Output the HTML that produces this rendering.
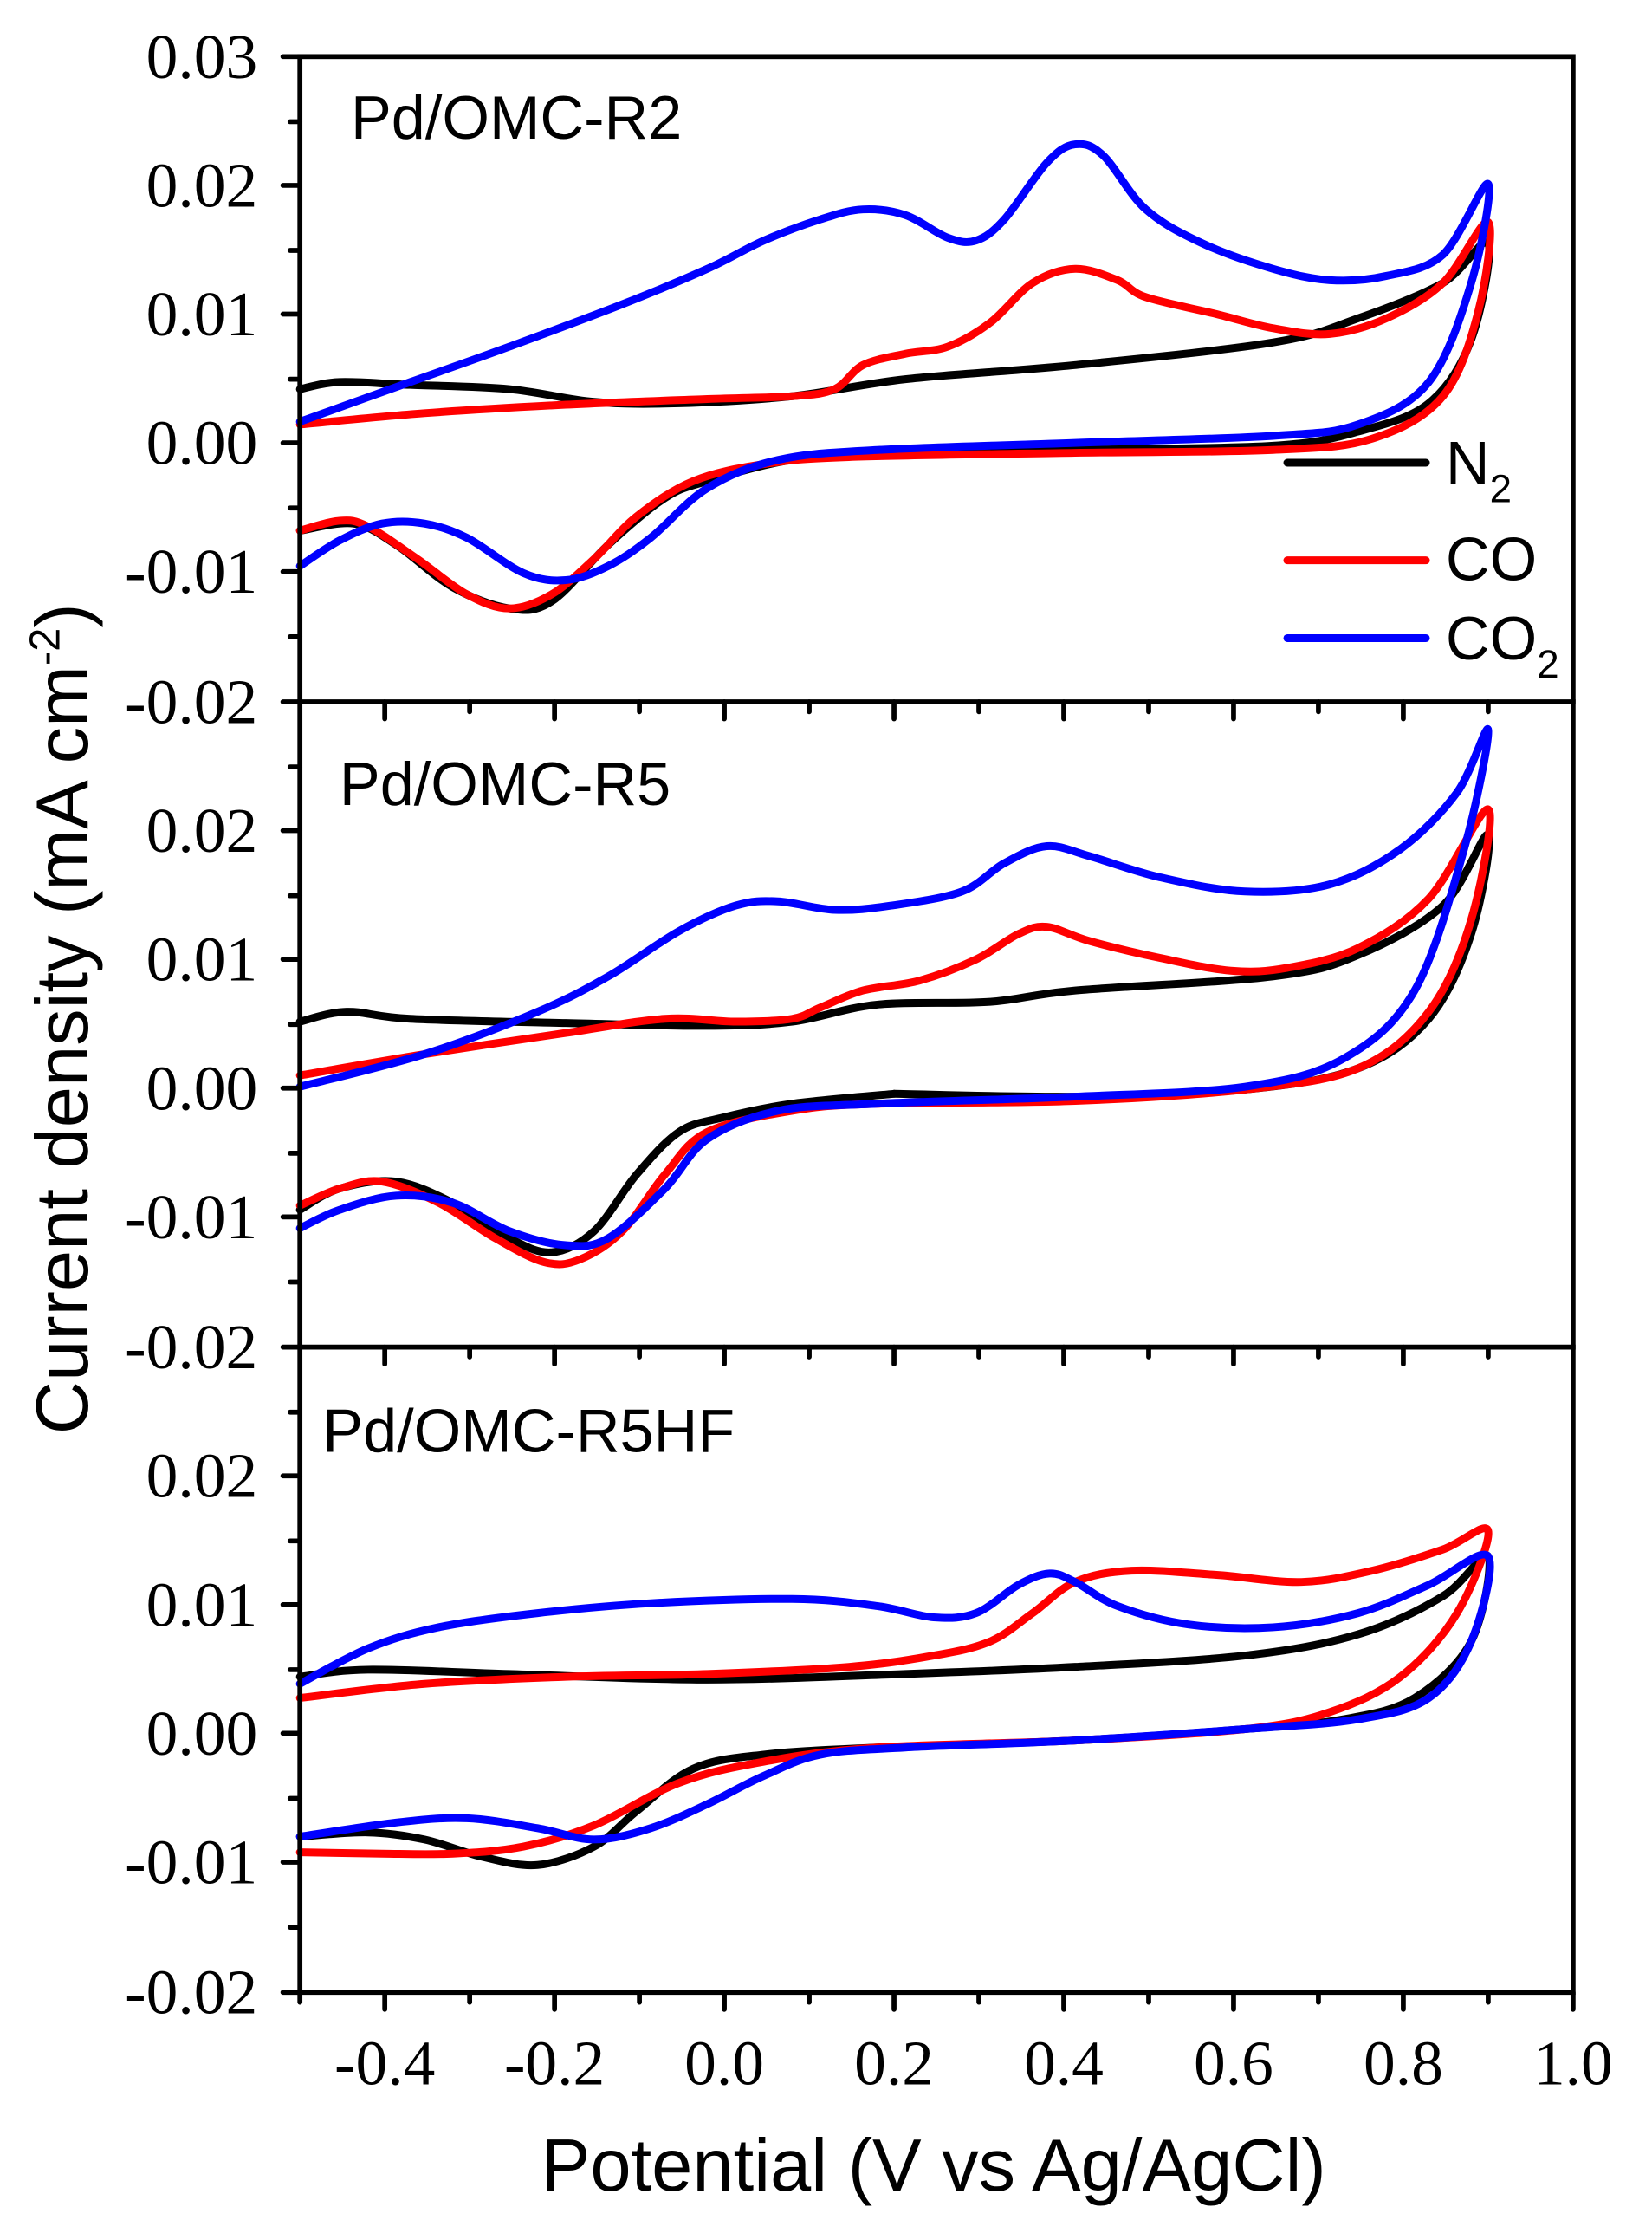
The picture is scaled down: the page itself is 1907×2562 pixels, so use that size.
<!DOCTYPE html>
<html><head><meta charset="utf-8"><style>html,body{margin:0;padding:0;background:#fff}svg{display:block}</style></head>
<body>
<svg id="s" width="1907" height="2562" viewBox="0 0 1167.8 1568.9" preserveAspectRatio="none" xmlns="http://www.w3.org/2000/svg">
<g id="curves" fill="none" stroke-width="5.5" stroke-linejoin="round" stroke-linecap="round">
<polyline stroke="#000" points="212,275 240,270 290,272 360,275 420,284 480,285 560,280 640,268 760,258 900,242 960,225 1020,200 1052,172 1040,240 1010,285 960,305 900,315 760,318 620,322 560,325 500,340 470,352 430,385 390,425 360,430 320,415 280,385 250,370 212,375"/>
<polyline stroke="#f00" points="212,300 300,292 400,286 500,282 560,280 590,275 610,258 640,250 670,245 700,228 730,200 760,190 790,198 810,210 860,222 900,232 940,236 980,225 1020,200 1052,157 1045,220 1020,280 970,310 900,318 760,320 600,323 540,328 490,340 450,365 420,395 390,420 360,430 330,420 295,395 260,372 240,368 212,375"/>
<polyline stroke="#00f" points="212,298 290,270 360,245 440,215 500,190 540,170 580,155 610,148 640,152 670,168 690,170 710,155 740,115 760,102 780,110 810,148 850,172 900,190 940,198 980,195 1020,180 1052,130 1040,200 1010,270 960,300 900,308 760,313 620,318 550,325 500,345 460,380 430,400 400,410 370,405 330,380 300,370 270,370 240,382 212,400"/>
<polyline stroke="#000" points="212,722 245,715 290,720 400,723 500,725 560,722 620,710 700,708 760,700 900,690 960,675 1020,640 1052,590 1040,660 1010,720 960,755 880,770 760,775 632,773"/>
<polyline stroke="#000" points="632,773 560,780 510,790 480,800 450,830 420,870 390,885 360,875 320,850 280,835 240,840 212,855"/>
<polyline stroke="#f00" points="212,760 300,745 400,730 470,720 520,722 560,720 580,712 610,700 650,693 690,678 720,660 740,655 770,665 820,677 870,686 910,684 960,670 1010,635 1052,572 1040,650 1010,715 960,755 880,770 760,778 620,780 560,785 500,800 470,830 440,870 410,890 385,892 350,875 310,850 270,835 240,840 212,852"/>
<polyline stroke="#00f" points="212,768 300,745 380,715 430,690 480,658 520,640 550,637 590,643 630,640 680,630 710,610 740,598 770,605 820,620 880,630 940,625 990,600 1030,560 1052,516 1035,600 1000,700 950,748 880,768 760,775 620,780 550,785 500,805 470,840 430,875 400,880 360,870 320,850 280,845 240,855 212,868"/>
<polyline stroke="#000" points="212,1185 260,1180 360,1183 500,1187 640,1183 760,1178 880,1170 960,1155 1020,1128 1052,1100 1040,1160 1000,1200 950,1215 880,1222 760,1230 620,1235 540,1240 490,1250 450,1280 420,1305 380,1318 340,1312 300,1300 260,1295 212,1298"/>
<polyline stroke="#f00" points="212,1200 300,1190 400,1185 500,1183 600,1178 660,1170 700,1160 730,1140 760,1118 800,1110 860,1113 920,1118 970,1110 1020,1095 1052,1082 1030,1140 990,1185 940,1210 880,1222 760,1230 620,1235 540,1245 480,1260 420,1290 370,1305 320,1310 270,1310 212,1309"/>
<polyline stroke="#00f" points="212,1190 260,1165 310,1150 380,1140 460,1133 560,1130 620,1135 660,1143 690,1140 720,1120 742,1112 760,1118 790,1135 840,1148 900,1150 960,1140 1010,1120 1052,1100 1040,1160 1010,1200 960,1215 880,1222 760,1230 640,1235 580,1240 540,1255 500,1275 460,1292 420,1300 380,1292 330,1285 280,1288 212,1298"/>
</g>
<g fill="none" stroke-width="5.5" stroke-linecap="round">
<line x1="910" y1="327" x2="1008" y2="327" stroke="#000"/>
<line x1="910" y1="396" x2="1008" y2="396" stroke="#f00"/>
<line x1="910" y1="451" x2="1008" y2="451" stroke="#00f"/>
</g>
<g stroke="#000" stroke-width="3.5" fill="none" stroke-linecap="square">
<rect x="212" y="40" width="900" height="1368"/>
<line x1="212" y1="496" x2="1112" y2="496"/>
<line x1="212" y1="952" x2="1112" y2="952"/>
</g>
<g stroke="#000" stroke-width="3.5" stroke-linecap="round">
<path d="M200,40H212M200,131H212M200,222H212M200,313H212M200,404H212M200,496H212M200,587H212M200,678H212M200,769H212M200,860H212M200,952H212M200,1043H212M200,1134H212M200,1225H212M200,1316H212M200,1408H212"/>
<path d="M205,86H212M205,177H212M205,268H212M205,359H212M205,450H212M205,542H212M205,633H212M205,724H212M205,815H212M205,906H212M205,998H212M205,1089H212M205,1180H212M205,1271H212M205,1362H212"/>
<path d="M272,1408V1420M392,1408V1420M512,1408V1420M632,1408V1420M752,1408V1420M872,1408V1420M992,1408V1420M1112,1408V1420"/>
<path d="M212,1408V1415M332,1408V1415M452,1408V1415M572,1408V1415M692,1408V1415M812,1408V1415M932,1408V1415M1052,1408V1415"/>
<path d="M272,496V508M392,496V508M512,496V508M632,496V508M752,496V508M872,496V508M992,496V508M332,496V503M452,496V503M572,496V503M692,496V503M812,496V503M932,496V503M1052,496V503"/>
<path d="M272,952V964M392,952V964M512,952V964M632,952V964M752,952V964M872,952V964M992,952V964M332,952V959M452,952V959M572,952V959M692,952V959M812,952V959M932,952V959M1052,952V959"/>
</g>
<g font-family="Liberation Serif, serif" font-size="45" text-anchor="end" fill="#000">
<text x="182" y="55">0.03</text><text x="182" y="146">0.02</text><text x="182" y="237">0.01</text><text x="182" y="328">0.00</text><text x="182" y="419">-0.01</text><text x="182" y="511">-0.02</text>
<text x="182" y="602">0.02</text><text x="182" y="693">0.01</text><text x="182" y="784">0.00</text><text x="182" y="875">-0.01</text><text x="182" y="967">-0.02</text>
<text x="182" y="1058">0.02</text><text x="182" y="1149">0.01</text><text x="182" y="1240">0.00</text><text x="182" y="1331">-0.01</text><text x="182" y="1423">-0.02</text>
</g>
<g font-family="Liberation Serif, serif" font-size="45" text-anchor="middle" fill="#000">
<text x="272" y="1473">-0.4</text><text x="392" y="1473">-0.2</text><text x="512" y="1473">0.0</text><text x="632" y="1473">0.2</text><text x="752" y="1473">0.4</text><text x="872" y="1473">0.6</text><text x="992" y="1473">0.8</text><text x="1112" y="1473">1.0</text>
</g>
<g font-family="Liberation Sans, sans-serif" fill="#000">
<text x="248" y="98" font-size="43">Pd/OMC-R2</text>
<text x="240" y="569" font-size="43">Pd/OMC-R5</text>
<text x="228" y="1026" font-size="43">Pd/OMC-R5HF</text>
<text x="1022" y="342" font-size="43">N<tspan font-size="28" dy="13">2</tspan></text>
<text x="1022" y="410" font-size="43">CO</text>
<text x="1022" y="466" font-size="43">CO<tspan font-size="28" dy="13">2</tspan></text>
<text x="660" y="1548" font-size="52" text-anchor="middle">Potential (V vs Ag/AgCl)</text>
<text transform="translate(62,720) rotate(-90)" font-size="52" text-anchor="middle">Current density (mA cm<tspan font-size="30" dy="-20">-2</tspan><tspan dy="20">)</tspan></text>
</g>
</svg>
<script>
document.querySelectorAll('#curves polyline').forEach(function(pl){
  var pts=pl.getAttribute('points').trim().split(/\s+/).map(function(p){return p.split(',').map(Number);});
  var d='M'+pts[0][0]+','+pts[0][1];
  for(var i=0;i<pts.length-1;i++){
    var p0=pts[i-1]||pts[i],p1=pts[i],p2=pts[i+1],p3=pts[i+2]||p2;
    var c1x=p1[0]+(p2[0]-p0[0])/6,c1y=p1[1]+(p2[1]-p0[1])/6;
    var c2x=p2[0]-(p3[0]-p1[0])/6,c2y=p2[1]-(p3[1]-p1[1])/6;
    d+=' C'+c1x.toFixed(1)+','+c1y.toFixed(1)+' '+c2x.toFixed(1)+','+c2y.toFixed(1)+' '+p2[0]+','+p2[1];
  }
  var path=document.createElementNS('http://www.w3.org/2000/svg','path');
  path.setAttribute('d',d);path.setAttribute('stroke',pl.getAttribute('stroke'));
  pl.parentNode.replaceChild(path,pl);
});
</script>
</body></html>
